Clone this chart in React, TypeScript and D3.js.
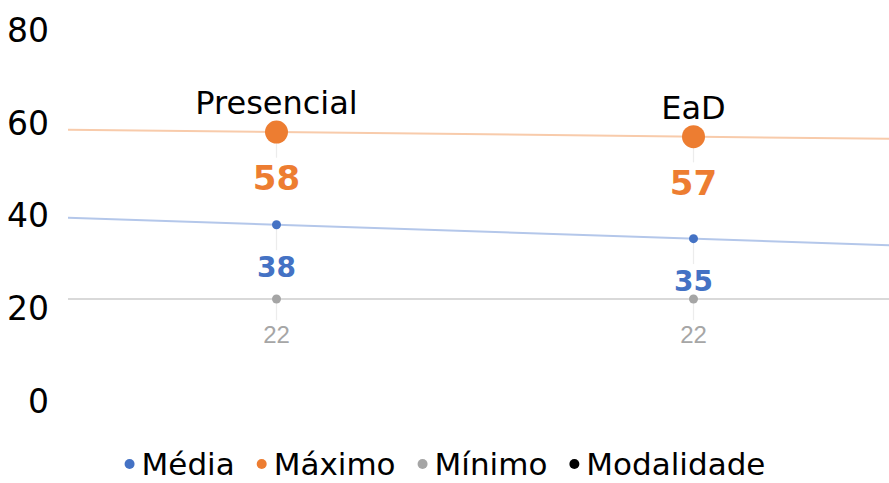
import React, { useRef, useEffect } from 'react'
import * as d3 from 'd3'

const categories = ['Presencial', 'EaD']
const media = [38, 35]
const maximo = [58, 57]
const minimo = [22, 22]
const yTicks = [0, 20, 40, 60, 80]
const legendLabels = ['Média', 'Máximo', 'Mínimo', 'Modalidade']

const colors = { media: '#4472C4', maximo: '#ED7D31', minimo: '#A5A5A5', modalidade: '#000000' }
const trendColors = { media: '#b4c7ea', maximo: '#f8cbab', minimo: '#d9d9d9' }

const App = () => {
  const chartRef = useRef<SVGSVGElement>(null)
  const width = 889
  const height = 483
  const font = '"DejaVu Sans", Verdana, sans-serif'

  useEffect(() => {
    const svg = d3.select(chartRef.current)
    svg.selectAll('*').remove()

    const y = d3.scaleLinear().domain([0, 80]).range([401, 30])
    // category index -> x, band centres at 0 and 1, plot edges at -0.5 and 1.5
    const x = d3.scaleLinear().domain([-0.5, 1.5]).range([68, 902])

    // y tick labels
    svg
      .append('g')
      .selectAll('text')
      .data(yTicks)
      .join('text')
      .attr('x', 49)
      .attr('y', (d) => y(d))
      .attr('dy', '0.36em')
      .attr('text-anchor', 'end')
      .attr('font-family', font)
      .attr('font-size', 33)
      .attr('fill', '#000')
      .text((d) => d)

    const series = [
      { key: 'minimo', values: minimo, r: 4.5, labelSize: 24, bold: false, labelDy: 44, labelColor: '#a6a6a6' },
      { key: 'media', values: media, r: 4.5, labelSize: 28, bold: true, labelDy: 52, labelColor: colors.media },
      { key: 'maximo', values: maximo, r: 11.5, labelSize: 34, bold: true, labelDy: 58, labelColor: colors.maximo },
    ]

    // linear trend lines across the whole plot
    series.forEach((s) => {
      const n = s.values.length
      const mx = d3.mean(s.values.map((_, i) => i)) as number
      const my = d3.mean(s.values) as number
      let num = 0
      let den = 0
      s.values.forEach((v, i) => {
        num += (i - mx) * (v - my)
        den += (i - mx) * (i - mx)
      })
      const slope = n > 1 ? num / den : 0
      const f = (i: number) => my + slope * (i - mx)
      svg
        .append('line')
        .attr('x1', x(-0.5))
        .attr('x2', x(1.5))
        .attr('y1', y(f(-0.5)))
        .attr('y2', y(f(1.5)))
        .attr('stroke', trendColors[s.key])
        .attr('stroke-width', 2)
    })

    // leader lines, points and data labels
    series.forEach((s) => {
      const g = svg.append('g')
      g.selectAll('line')
        .data(s.values)
        .join('line')
        .attr('x1', (_, i) => x(i))
        .attr('x2', (_, i) => x(i))
        .attr('y1', (d) => y(d))
        .attr('y2', (d) => y(d) + s.labelDy - s.labelSize * 0.95)
        .attr('stroke', '#ececec')
        .attr('stroke-width', 1.2)
      g.selectAll('circle')
        .data(s.values)
        .join('circle')
        .attr('cx', (_, i) => x(i))
        .attr('cy', (d) => y(d))
        .attr('r', s.r)
        .attr('fill', colors[s.key])
      g.selectAll('text')
        .data(s.values)
        .join('text')
        .attr('x', (_, i) => x(i))
        .attr('y', (d) => y(d) + s.labelDy)
        .attr('text-anchor', 'middle')
        .attr('font-family', s.bold ? font : '"Liberation Sans", Arial, sans-serif')
        .attr('font-weight', s.bold ? 'bold' : 'normal')
        .attr('font-size', s.labelSize)
        .attr('fill', s.labelColor)
        .text((d) => d)
    })

    // Modalidade labels above the maximum point
    svg
      .append('g')
      .selectAll('text')
      .data(categories)
      .join('text')
      .attr('x', (_, i) => x(i))
      .attr('y', (_, i) => y(maximo[i]) - 18)
      .attr('text-anchor', 'middle')
      .attr('font-family', font)
      .attr('font-size', 32)
      .attr('fill', '#000')
      .text((d) => d)

    // Legend, centred
    const legendColors = [colors.media, colors.maximo, colors.minimo, colors.modalidade]
    const legend = svg.append('g')
    const items = legend
      .selectAll('g')
      .data(legendLabels)
      .join('g')
    items
      .append('circle')
      .attr('cx', 0)
      .attr('cy', -11)
      .attr('r', 5)
      .attr('fill', (_, i) => legendColors[i])
    items
      .append('text')
      .attr('x', 12)
      .attr('y', 0)
      .attr('font-family', font)
      .attr('font-size', 31)
      .attr('fill', '#000')
      .text((d) => d)
    let offset = 0
    const gap = 27
    items.each(function () {
      const w = (d3.select(this).select('text').node() as SVGTextElement).getComputedTextLength()
      d3.select(this).attr('transform', `translate(${offset},0)`)
      offset += 12 + w + gap
    })
    const total = offset - gap
    legend.attr('transform', `translate(${width / 2 - total / 2 + 3},475)`)
  }, [])

  return (
    <div style={{ position: 'fixed', left: 0, top: 0, background: '#fff' }}>
      <svg ref={chartRef} width={width} height={height} />
    </div>
  )
}

export default App
